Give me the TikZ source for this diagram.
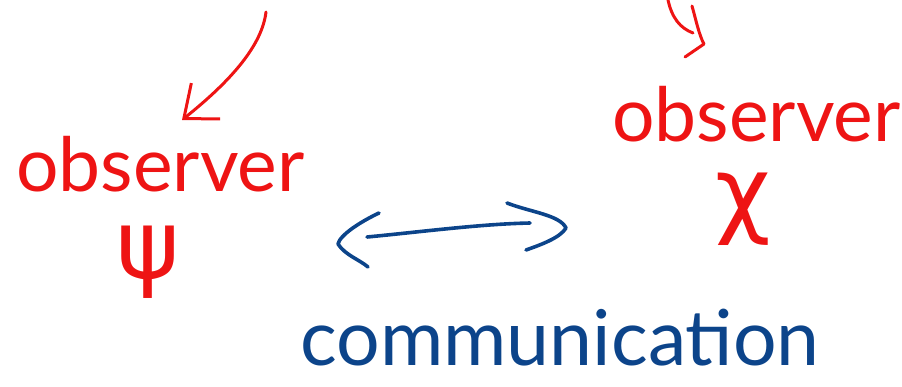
\documentclass[tikz,border=0pt]{standalone}
\usepackage{fontspec}
\setmainfont{Lato}
\newfontfamily\greekfont{DejaVu Sans}
\usetikzlibrary{arrows.meta}
\definecolor{inkred}{RGB}{238,20,20}
\definecolor{inkblue}{RGB}{12,68,138}
\tikzset{
  redlabel/.style={text=inkred, inner sep=0pt, text depth=0pt, font=\fontsize{75}{86}\selectfont},
  greeklabel/.style={text=inkred, inner sep=0pt, text height=50pt, text depth=19pt, font=\greekfont\fontsize{96}{106}\selectfont},
  bluelabel/.style={text=inkblue, inner sep=0pt, text depth=0pt, font=\fontsize{77}{88}\selectfont},
  redstroke/.style={draw=inkred, line width=3pt, line cap=round, line join=round},
  bluestroke/.style={draw=inkblue, line width=3.6pt, line cap=round, line join=round},
}
\begin{document}
\begin{tikzpicture}[x=1pt,y=-1pt]
\useasboundingbox (0,0) rectangle (902,386);
% labels
\node[redlabel, anchor=base west] (obsL) at (16,191) {observer};
\node[greeklabel, anchor=base] (psi) at (148,278) {ψ};
\node[redlabel, anchor=base west] (obsR) at (612,141) {observer};
\node[greeklabel, anchor=base] (chi) at (743,225) {χ};
\node[bluelabel, anchor=base west] (comm) at (300,365) {communication};
% left red arrow
\coordinate (srcL) at (266,12);
\coordinate (tipL) at (182,120);
\draw[redstroke, -{Straight Barb[length=28pt,width=46pt,line width=3pt]}]
  (srcL) .. controls (262,45) and (232,80) .. (tipL);
% right red hook arrow
\coordinate (srcR) at (668,0);
\coordinate (tipR) at (704,44);
\draw[redstroke] (srcR) .. controls (672,18) and (680,28) .. (693,33);
\draw[redstroke] (692,6) .. controls (696,20) and (699,35) .. (tipR) -- (685,57);
% blue double arrow
\coordinate (aL) at (338,244);
\coordinate (aR) at (566,228);
\draw[bluestroke] (367,237) .. controls (420,232) and (480,224) .. (530,223);
\draw[bluestroke] (379,213) .. controls (360,222) and (340,235) .. (aL) .. controls (345,255) and (360,260) .. (368,267);
\draw[bluestroke] (507,203) .. controls (530,212) and (560,215) .. (aR) .. controls (560,238) and (540,245) .. (526,250);
\end{tikzpicture}
\end{document}
